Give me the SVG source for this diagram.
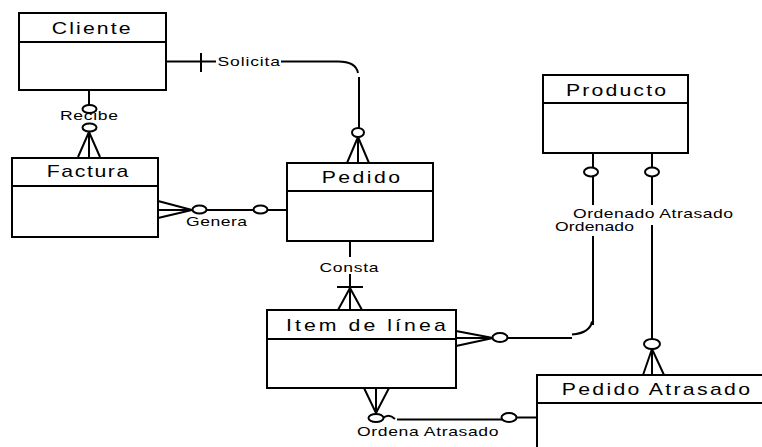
<svg xmlns="http://www.w3.org/2000/svg" width="762" height="447" viewBox="0 0 762 447">
<style>
.box{fill:#fff;stroke:#000;stroke-width:2}
.ln{fill:none;stroke:#000;stroke-width:2}
.cir{fill:#fff;stroke:#000;stroke-width:2}
.ttl{font-family:"Liberation Sans",Arial,sans-serif;font-size:17px;fill:#000}
.lbl{font-family:"Liberation Sans",Arial,sans-serif;font-size:13px;fill:#000}
</style>
<rect width="762" height="447" fill="#fff"/>
<g id="connectors">
  <!-- Solicita -->
  <path class="ln" d="M166,61.5 H216 M281,61.5 H338 M338,61.5 Q356,61.5 358,73 M359,77 V128"/>
  <path class="ln" d="M201,53 V72"/>
  <ellipse class="cir" cx="358" cy="132.5" rx="6" ry="4.5"/>
  <path class="ln" d="M358,137 L347,163 M358,137 V163 M358,137 L369,163"/>
  <text class="lbl" transform="scale(1.35,1)" x="161.11" y="66.5" textLength="46.3">Solicita</text>
  <!-- Recibe -->
  <path class="ln" d="M89,90 V105"/>
  <text class="lbl" transform="scale(1.35,1)" x="44.44" y="120" textLength="42.96">Recibe</text>
  <ellipse class="cir" cx="89.5" cy="109" rx="7" ry="4"/>
  <ellipse class="cir" cx="89.5" cy="127.5" rx="7" ry="4"/>
  <path class="ln" d="M89,132 L78,157 M89,132 V157 M89,132 L100,157"/>
  <!-- Genera -->
  <path class="ln" d="M158,201 L192,210 M158,210 H192 M158,218 L192,210 M206,210 H253 M267,210 H287"/>
  <ellipse class="cir" cx="199.5" cy="209.5" rx="7" ry="4"/>
  <ellipse class="cir" cx="260.5" cy="209.5" rx="7" ry="4"/>
  <text class="lbl" transform="scale(1.35,1)" x="137.78" y="226" textLength="45.19">Genera</text>
  <!-- Consta -->
  <path class="ln" d="M350,241 V257 M350,274 V288 M337,287 H363 M350,288 L338,310 M350,288 V310 M350,288 L362,310"/>
  <text class="lbl" transform="scale(1.35,1)" x="236.67" y="271.7" textLength="43.7">Consta</text>
  <!-- Ordenado -->
  <path class="ln" d="M456,331 L493,338 M456,338 H493 M456,346 L493,338 M507,338 H572 M572,334.5 Q590,333 592,321.5 M593,325 V236 M593,205 V177 M593,167 V153"/>
  <ellipse class="cir" cx="500" cy="337.5" rx="7.5" ry="4.5"/>
  <ellipse class="cir" cx="591" cy="172" rx="7" ry="4.5"/>
  <!-- Ordenado Atrasado -->
  <path class="ln" d="M652,153 V168 M652,177 V205 M652,225 V339 M652,349 L643,375 M652,349 V375 M652,349 L664,375"/>
  <ellipse class="cir" cx="652" cy="172" rx="7" ry="4.5"/>
  <ellipse class="cir" cx="652" cy="344" rx="8" ry="5"/>
  <text class="lbl" transform="scale(1.35,1)" x="424.44" y="218" textLength="118.52">Ordenado Atrasado</text>
  <text class="lbl" transform="scale(1.35,1)" x="411.11" y="231" textLength="58.52">Ordenado</text>
  <!-- Ordena Atrasado -->
  <path class="ln" d="M364,388 L376,413 M376,388 V413 M389,388 L376,413 M383,418 Q389,413 395,419 M397,419.5 H502 M517,417.5 H537"/>
  <ellipse class="cir" cx="376" cy="418" rx="7.5" ry="4"/>
  <ellipse class="cir" cx="509" cy="417.5" rx="7.5" ry="4.5"/>
  <text class="lbl" transform="scale(1.35,1)" x="264.44" y="435.7" textLength="104.81">Ordena Atrasado</text>
</g>
<g id="Cliente">
  <rect class="box" x="19" y="13" width="147" height="77"/>
  <line class="ln" x1="19" y1="42" x2="167" y2="42"/>
  <text class="ttl" transform="scale(1.25,1)" x="41.36" y="34" textLength="63.2">Cliente</text>
</g>
<g id="Factura">
  <rect class="box" x="12" y="158" width="146" height="79"/>
  <line class="ln" x1="12" y1="186" x2="159" y2="186"/>
  <text class="ttl" transform="scale(1.25,1)" x="37.36" y="177.5" textLength="65.28">Factura</text>
</g>
<g id="Pedido">
  <rect class="box" x="287" y="163" width="146" height="78"/>
  <line class="ln" x1="287" y1="191" x2="434" y2="191"/>
  <text class="ttl" transform="scale(1.25,1)" x="257.36" y="183.3" textLength="62.64">Pedido</text>
</g>
<g id="ItemDeLinea">
  <rect class="box" x="267" y="310" width="189" height="78"/>
  <line class="ln" x1="267" y1="339" x2="457" y2="339"/>
  <text class="ttl" transform="scale(1.25,1)" x="228.8" y="331" textLength="127.76">Item de línea</text>
</g>
<g id="Producto">
  <rect class="box" x="543" y="75" width="145" height="78"/>
  <line class="ln" x1="543" y1="103" x2="689" y2="103"/>
  <text class="ttl" transform="scale(1.25,1)" x="452.8" y="96" textLength="80">Producto</text>
</g>
<g id="PedidoAtrasado">
  <rect class="box" x="537" y="375" width="240" height="90"/>
  <line class="ln" x1="537" y1="403" x2="762" y2="403"/>
  <text class="ttl" transform="scale(1.25,1)" x="449.36" y="395" textLength="150.64">Pedido Atrasado</text>
</g>
</svg>
